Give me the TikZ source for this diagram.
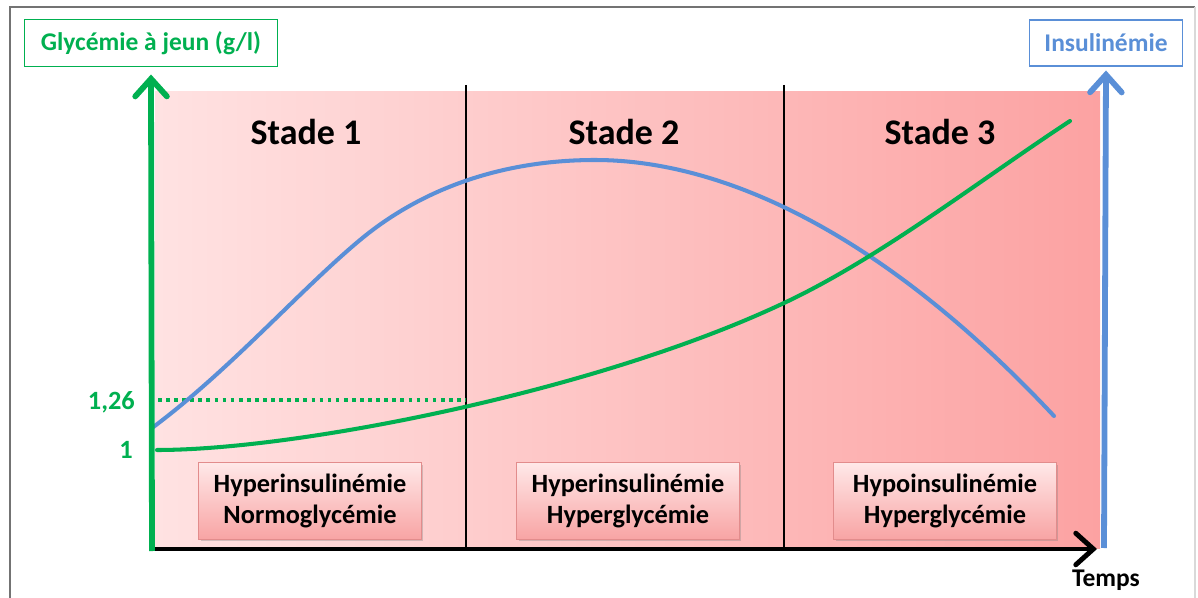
\documentclass[tikz,border=0pt]{standalone}
\usepackage{fontspec}
\setmainfont{Carlito}
\usetikzlibrary{arrows.meta,shadows,positioning}

\definecolor{glygreen}{HTML}{00B050}
\definecolor{insblue}{HTML}{5A8FD7}
\definecolor{pinkL}{HTML}{FFE2E2}
\definecolor{pinkR}{HTML}{FCA2A2}
\definecolor{boxtop}{HTML}{FFE8E8}
\definecolor{boxbot}{HTML}{F8A4A4}
\definecolor{boxline}{HTML}{E28C8C}

\begin{document}
\begin{tikzpicture}[x=0.02cm,y=-0.02cm,font=\bfseries]

	\tikzstyle{axisarrow}=[line width=3.3pt,-{Straight Barb[length=10pt,width=18pt,line cap=round]}]
	\tikzstyle{curve}=[line width=2.3pt,line cap=round]
	\tikzstyle{axislabel}=[draw,line width=1.1pt,fill=white,inner sep=2pt,font=\bfseries\fontsize{14.5}{17}\selectfont]
	\tikzstyle{stadetitle}=[font=\bfseries\fontsize{20.5}{24}\selectfont]
	\tikzstyle{phasebox}=[draw=boxline,line width=0.8pt,top color=boxtop,bottom color=boxbot,
		minimum width=4.45cm,minimum height=1.53cm,align=center,
		drop shadow={opacity=0.35,shadow xshift=1.2pt,shadow yshift=-1.2pt},
		font=\bfseries\fontsize{15}{17.5}\selectfont]

	\useasboundingbox (0,0) rectangle (1198,598);
	\draw[line width=1.2pt,black!55] (10,598) -- (10,7) -- (1195,7);
	\draw[line width=1pt,black!15] (1195,7) -- (1195,598);

	% fond
	\shade[left color=pinkL,right color=pinkR] (155,92) rectangle (1100,548);

	\foreach \x in {466,784}{ \draw[line width=1.2pt] (\x,85) -- (\x,550);}

	\foreach \n/\sx/\bx/\lA/\lB in {1/306/310/Hyperinsulinémie/Normoglycémie,
		2/624/628/Hyperinsulinémie/Hyperglycémie,
		3/940/945/Hypoinsulinémie/Hyperglycémie}{
		\node[stadetitle] (stade\n) at (\sx,132) {Stade \n};
		\node[phasebox] (phase\n) at (\bx,501) {\lA\\\lB};
	}

	% seuils
	\node[text=glygreen,anchor=east,font=\bfseries\fontsize{15}{17}\selectfont] (seuilA) at (141,402) {1,26};
	\node[text=glygreen,anchor=east,font=\bfseries\fontsize{15}{17}\selectfont] (seuilB) at (139,450) {1};
	\coordinate (dotA) at (158,400);
	\coordinate (dotB) at (466,400);
	\draw[glygreen,line width=2.1pt,dash pattern=on 2.1pt off 2.5pt] (dotA) -- (dotB);

	% courbes
	\coordinate (insPic) at (595,160);
	\draw[curve,insblue] (152,428) .. controls (230,370) and (300,290) .. (360,240)
		.. controls (420,190) and (500,160) .. (insPic)
		.. controls (720,160) and (880,230) .. (1054,416);
	\coordinate (glyMid) at (784,303);
	\draw[curve,glygreen] (157,450) .. controls (300,450) and (600,390) .. (glyMid)
		.. controls (880,258) and (980,180) .. (1070,121);

	% axes
	\node[axislabel,draw=glygreen,text=glygreen,minimum width=5.06cm,minimum height=0.94cm] (gly) at (151,43) {Glycémie à jeun (g/l)};
	\node[axislabel,draw=insblue,text=insblue,minimum width=3.06cm,minimum height=0.92cm] (ins) at (1106,43) {Insulinémie};
	\node[font=\bfseries\fontsize{14.5}{17}\selectfont] (temps) at (1106,580) {Temps};
	\coordinate (orig) at (152,551);
	\coordinate (origT) at (150,549);
	\coordinate (origI) at (1104,548);
	\coordinate (finT) at (1097,549);

	\draw[axisarrow,black,line width=2.8pt] (origT) -- (finT);
	\draw[axisarrow,glygreen] (orig) -- ([yshift=-4pt]gly.south);
	\draw[axisarrow,insblue] (origI) -- ([yshift=-2pt]ins.south);
\end{tikzpicture}
\end{document}
